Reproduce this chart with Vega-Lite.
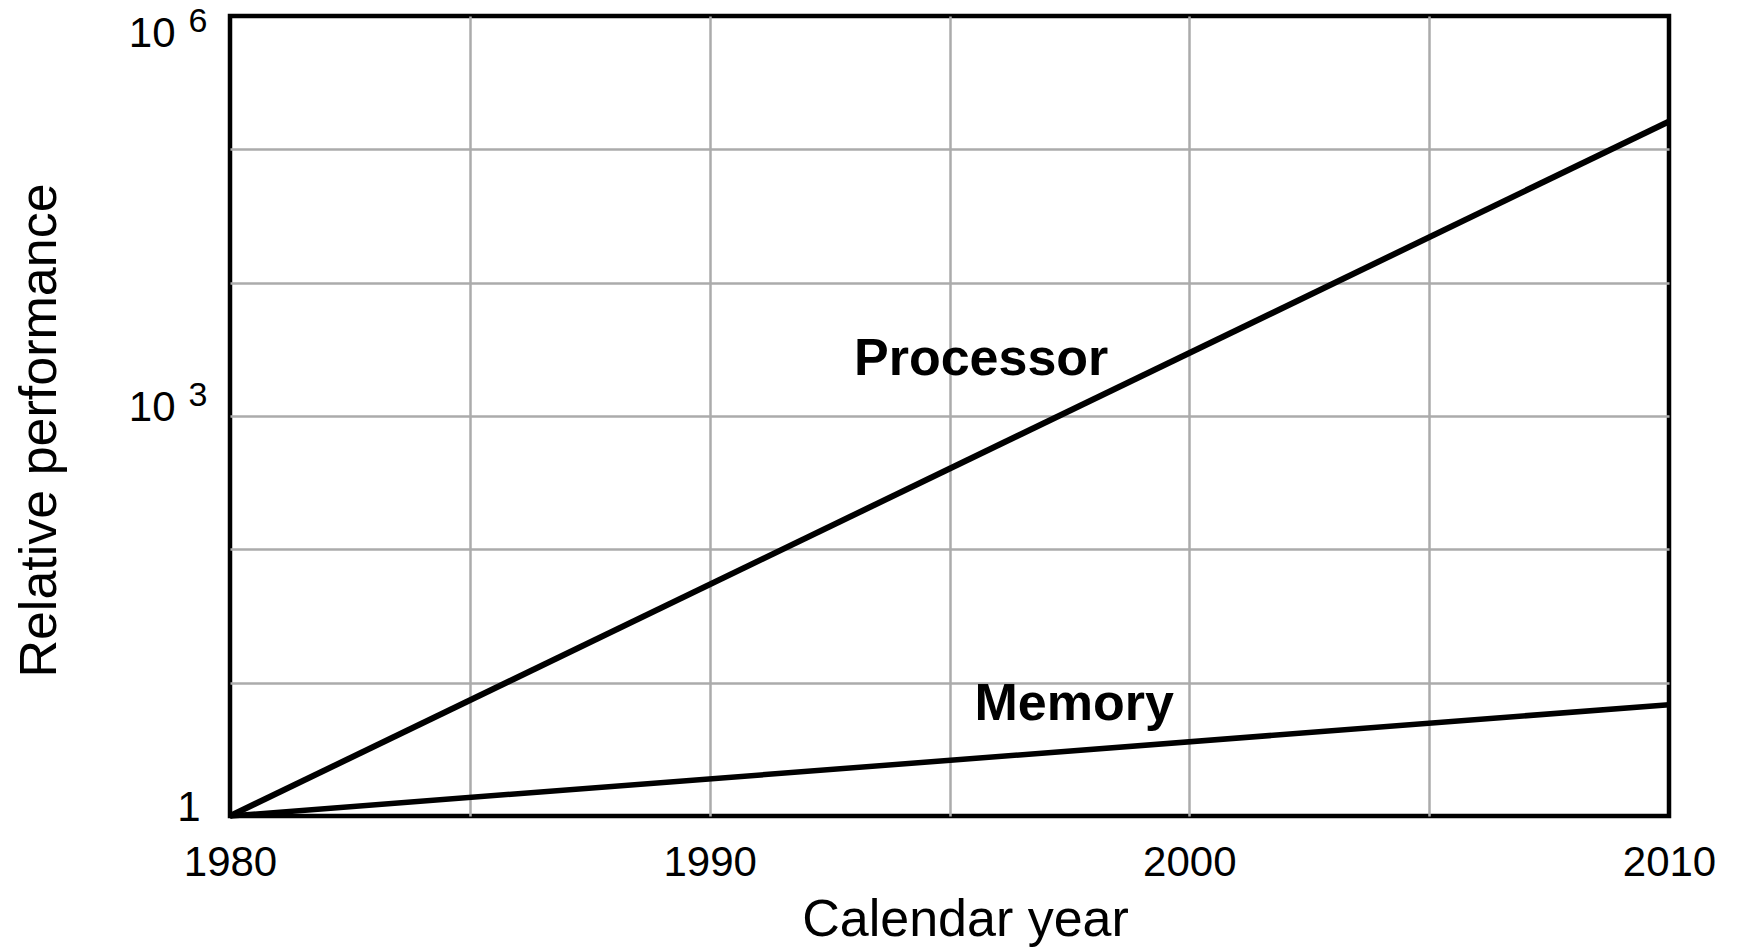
{
  "$schema": "https://vega.github.io/schema/vega-lite/v6.json",
  "autosize": {"type": "none"},
  "width": 1439,
  "height": 800,
  "padding": {"left": 230, "top": 16, "right": 75, "bottom": 134},
  "background": "white",
  "config": {
    "view": {"stroke": "black", "strokeWidth": 4.5},
    "font": "Liberation Sans"
  },
  "datasets": {
    "lines": [
      {"series": "Processor", "year": 1980, "perf": 1},
      {"series": "Processor", "year": 2010, "perf": 161800},
      {"series": "Memory", "year": 1980, "perf": 1},
      {"series": "Memory", "year": 2010, "perf": 6.84}
    ],
    "labels": [
      {"label": "Processor", "year": 1995.66, "perf": 2690},
      {"label": "Memory", "year": 1997.6, "perf": 6.9}
    ]
  },
  "resolve": {"axis": {"y": "independent"}},
  "layer": [
    {
      "data": {"name": "lines"},
      "transform": [{"filter": "datum.series == 'Processor'"}],
      "mark": {"type": "line", "color": "black", "strokeWidth": 6, "strokeCap": "butt"},
      "encoding": {
        "x": {
          "field": "year", "type": "quantitative",
          "scale": {"domain": [1980, 2010], "nice": false, "zero": false},
          "axis": {
            "title": "Calendar year",
            "values": [1980, 1985, 1990, 1995, 2000, 2005, 2010],
            "labelExpr": "datum.value % 10 == 0 ? format(datum.value, 'd') : ''",
            "labelFontSize": 42, "labelColor": "black", "labelPadding": 26,
            "labelBaseline": "top", "labelFlush": false, "labelOverlap": false,
            "ticks": false, "domain": false,
            "grid": true, "gridColor": "#ababab", "gridWidth": 2.5,
            "gridOpacity": {"condition": {"test": "datum.value == 1980 || datum.value == 2010", "value": 0}, "value": 1},
            "titleFontSize": 52, "titleFontWeight": "normal", "titleColor": "black",
            "titleX": 735, "titleY": 103, "titleBaseline": "middle", "titleAlign": "center"
          }
        },
        "y": {
          "field": "perf", "type": "quantitative",
          "scale": {"type": "log", "domain": [1, 1000000], "nice": false},
          "axis": {
            "title": "Relative performance",
            "orient": "left",
            "values": [1, 10, 100, 1000, 10000, 100000, 1000000],
            "labelExpr": "datum.value == 1 ? '1' : (datum.value == 1000 || datum.value == 1000000 ? '10' : '')",
            "labelFontSize": 42, "labelColor": "black",
            "labelAlign": "right", "labelBaseline": "middle",
            "labelPadding": {"condition": {"test": "datum.value == 1", "value": 30}, "value": 55},
            "labelOffset": {"condition": {"test": "datum.value == 1000000", "value": 17}, "value": -9},
            "labelFlush": false, "labelOverlap": false,
            "ticks": false, "domain": false,
            "grid": true, "gridColor": "#ababab", "gridWidth": 2.5,
            "gridOpacity": {"condition": {"test": "datum.value == 1 || datum.value == 1000000", "value": 0}, "value": 1},
            "titleFontSize": 52, "titleFontWeight": "normal", "titleColor": "black",
            "titleX": -191, "titleY": 414, "titleAngle": -90,
            "titleBaseline": "middle", "titleAlign": "center"
          }
        }
      }
    },
    {
      "data": {"name": "lines"},
      "transform": [{"filter": "datum.series == 'Memory'"}],
      "mark": {"type": "line", "color": "black", "strokeWidth": 5.5, "strokeCap": "butt"},
      "encoding": {
        "x": {"field": "year", "type": "quantitative"},
        "y": {
          "field": "perf", "type": "quantitative",
          "axis": {
            "title": null,
            "orient": "left",
            "values": [1000, 1000000],
            "labelExpr": "datum.value == 1000 ? '3' : '6'",
            "labelFontSize": 34, "labelColor": "black",
            "labelAlign": "right", "labelBaseline": "middle",
            "labelPadding": 23,
            "labelOffset": {"condition": {"test": "datum.value == 1000", "value": -21}, "value": 5},
            "labelFlush": false, "labelOverlap": false,
            "ticks": false, "domain": false, "grid": false
          }
        }
      }
    },
    {
      "data": {"name": "labels"},
      "mark": {"type": "text", "fontSize": 52, "fontWeight": "bold", "color": "black", "align": "center", "baseline": "middle"},
      "encoding": {
        "x": {"field": "year", "type": "quantitative"},
        "y": {"field": "perf", "type": "quantitative", "axis": null},
        "text": {"field": "label"}
      }
    }
  ]
}
